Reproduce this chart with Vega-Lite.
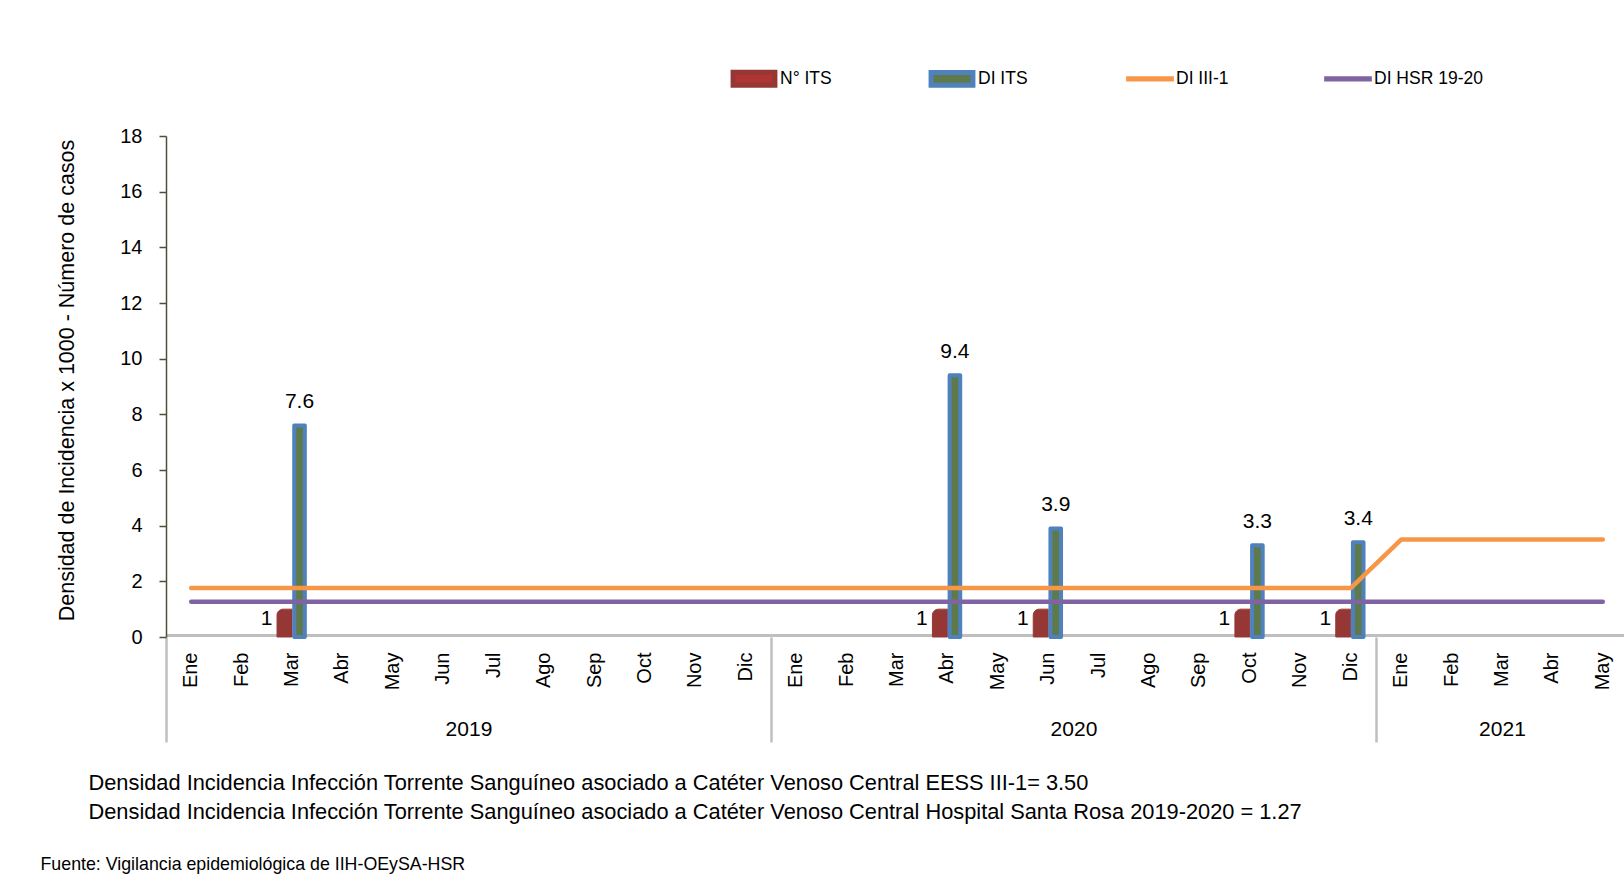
{
  "$schema": "https://vega.github.io/schema/vega-lite/v6.json",
  "autosize": {"type": "none"},
  "width": 1458,
  "height": 501,
  "padding": {"left": 166, "top": 136, "right": 0, "bottom": 255},
  "background": "white",
  "datasets": {
    "barras": [
      {"mes": "2019-03 Mar", "serie": "N° ITS", "valor": 1},
      {"mes": "2019-03 Mar", "serie": "DI ITS", "valor": 7.6},
      {"mes": "2020-04 Abr", "serie": "N° ITS", "valor": 1},
      {"mes": "2020-04 Abr", "serie": "DI ITS", "valor": 9.4},
      {"mes": "2020-06 Jun", "serie": "N° ITS", "valor": 1},
      {"mes": "2020-06 Jun", "serie": "DI ITS", "valor": 3.9},
      {"mes": "2020-10 Oct", "serie": "N° ITS", "valor": 1},
      {"mes": "2020-10 Oct", "serie": "DI ITS", "valor": 3.3},
      {"mes": "2020-12 Dic", "serie": "N° ITS", "valor": 1},
      {"mes": "2020-12 Dic", "serie": "DI ITS", "valor": 3.4}
    ],
    "lineas": [
      {"mes": "2019-01 Ene", "serie": "DI III-1", "valor": 1.76},
      {"mes": "2019-02 Feb", "serie": "DI III-1", "valor": 1.76},
      {"mes": "2019-03 Mar", "serie": "DI III-1", "valor": 1.76},
      {"mes": "2019-04 Abr", "serie": "DI III-1", "valor": 1.76},
      {"mes": "2019-05 May", "serie": "DI III-1", "valor": 1.76},
      {"mes": "2019-06 Jun", "serie": "DI III-1", "valor": 1.76},
      {"mes": "2019-07 Jul", "serie": "DI III-1", "valor": 1.76},
      {"mes": "2019-08 Ago", "serie": "DI III-1", "valor": 1.76},
      {"mes": "2019-09 Sep", "serie": "DI III-1", "valor": 1.76},
      {"mes": "2019-10 Oct", "serie": "DI III-1", "valor": 1.76},
      {"mes": "2019-11 Nov", "serie": "DI III-1", "valor": 1.76},
      {"mes": "2019-12 Dic", "serie": "DI III-1", "valor": 1.76},
      {"mes": "2020-01 Ene", "serie": "DI III-1", "valor": 1.76},
      {"mes": "2020-02 Feb", "serie": "DI III-1", "valor": 1.76},
      {"mes": "2020-03 Mar", "serie": "DI III-1", "valor": 1.76},
      {"mes": "2020-04 Abr", "serie": "DI III-1", "valor": 1.76},
      {"mes": "2020-05 May", "serie": "DI III-1", "valor": 1.76},
      {"mes": "2020-06 Jun", "serie": "DI III-1", "valor": 1.76},
      {"mes": "2020-07 Jul", "serie": "DI III-1", "valor": 1.76},
      {"mes": "2020-08 Ago", "serie": "DI III-1", "valor": 1.76},
      {"mes": "2020-09 Sep", "serie": "DI III-1", "valor": 1.76},
      {"mes": "2020-10 Oct", "serie": "DI III-1", "valor": 1.76},
      {"mes": "2020-11 Nov", "serie": "DI III-1", "valor": 1.76},
      {"mes": "2020-12 Dic", "serie": "DI III-1", "valor": 1.76},
      {"mes": "2021-01 Ene", "serie": "DI III-1", "valor": 3.5},
      {"mes": "2021-02 Feb", "serie": "DI III-1", "valor": 3.5},
      {"mes": "2021-03 Mar", "serie": "DI III-1", "valor": 3.5},
      {"mes": "2021-04 Abr", "serie": "DI III-1", "valor": 3.5},
      {"mes": "2021-05 May", "serie": "DI III-1", "valor": 3.5},
      {"mes": "2019-01 Ene", "serie": "DI HSR 19-20", "valor": 1.27},
      {"mes": "2019-02 Feb", "serie": "DI HSR 19-20", "valor": 1.27},
      {"mes": "2019-03 Mar", "serie": "DI HSR 19-20", "valor": 1.27},
      {"mes": "2019-04 Abr", "serie": "DI HSR 19-20", "valor": 1.27},
      {"mes": "2019-05 May", "serie": "DI HSR 19-20", "valor": 1.27},
      {"mes": "2019-06 Jun", "serie": "DI HSR 19-20", "valor": 1.27},
      {"mes": "2019-07 Jul", "serie": "DI HSR 19-20", "valor": 1.27},
      {"mes": "2019-08 Ago", "serie": "DI HSR 19-20", "valor": 1.27},
      {"mes": "2019-09 Sep", "serie": "DI HSR 19-20", "valor": 1.27},
      {"mes": "2019-10 Oct", "serie": "DI HSR 19-20", "valor": 1.27},
      {"mes": "2019-11 Nov", "serie": "DI HSR 19-20", "valor": 1.27},
      {"mes": "2019-12 Dic", "serie": "DI HSR 19-20", "valor": 1.27},
      {"mes": "2020-01 Ene", "serie": "DI HSR 19-20", "valor": 1.27},
      {"mes": "2020-02 Feb", "serie": "DI HSR 19-20", "valor": 1.27},
      {"mes": "2020-03 Mar", "serie": "DI HSR 19-20", "valor": 1.27},
      {"mes": "2020-04 Abr", "serie": "DI HSR 19-20", "valor": 1.27},
      {"mes": "2020-05 May", "serie": "DI HSR 19-20", "valor": 1.27},
      {"mes": "2020-06 Jun", "serie": "DI HSR 19-20", "valor": 1.27},
      {"mes": "2020-07 Jul", "serie": "DI HSR 19-20", "valor": 1.27},
      {"mes": "2020-08 Ago", "serie": "DI HSR 19-20", "valor": 1.27},
      {"mes": "2020-09 Sep", "serie": "DI HSR 19-20", "valor": 1.27},
      {"mes": "2020-10 Oct", "serie": "DI HSR 19-20", "valor": 1.27},
      {"mes": "2020-11 Nov", "serie": "DI HSR 19-20", "valor": 1.27},
      {"mes": "2020-12 Dic", "serie": "DI HSR 19-20", "valor": 1.27},
      {"mes": "2021-01 Ene", "serie": "DI HSR 19-20", "valor": 1.27},
      {"mes": "2021-02 Feb", "serie": "DI HSR 19-20", "valor": 1.27},
      {"mes": "2021-03 Mar", "serie": "DI HSR 19-20", "valor": 1.27},
      {"mes": "2021-04 Abr", "serie": "DI HSR 19-20", "valor": 1.27},
      {"mes": "2021-05 May", "serie": "DI HSR 19-20", "valor": 1.27}
    ],
    "anios": [
      {"anio": "2019", "desde": 0, "hasta": 12},
      {"anio": "2020", "desde": 12, "hasta": 24},
      {"anio": "2021", "desde": 24, "hasta": 29}
    ]
  },
  "config": {
    "view": {"stroke": null},
    "axis": {"grid": false, "labelFont": "Liberation Sans", "titleFont": "Liberation Sans"},
    "legend": {
      "orient": "none",
      "legendX": 563,
      "legendY": -82.5,
      "direction": "horizontal",
      "columns": 4,
      "gridAlign": "all",
      "columnPadding": 31,
      "symbolSize": 2025,
      "symbolStrokeWidth": 5,
      "symbolOpacity": 1,
      "labelFont": "Liberation Sans",
      "labelFontSize": 17.5,
      "labelColor": "black",
      "labelOffset": 1
    }
  },
  "layer": [
    {
      "encoding": {
        "x": {
          "field": "mes",
          "type": "nominal",
          "scale": {"range": [0, 1462], "paddingInner": 0.405, "paddingOuter": 0.2025},
          "axis": {
            "title": "Fuente: Vigilancia epidemiológica de IIH-OEySA-HSR",
            "labelExpr": "split(datum.value, ' ')[1]",
            "labelAngle": -90,
            "labelFontSize": 20,
            "labelColor": "black",
            "labelPadding": 17,
            "labelOverlap": false,
            "ticks": false,
            "tickSize": 0,
            "domainColor": "#BFBFBF",
            "domainWidth": 3,
            "offset": -2,
            "titleX": -126,
            "titleY": 234,
            "titleAlign": "left",
            "titleBaseline": "alphabetic",
            "titleFontSize": 17.8,
            "titleFontWeight": "normal",
            "titleColor": "black"
          }
        },
        "y": {
          "field": "valor",
          "type": "quantitative",
          "scale": {"domain": [0, 18], "nice": false},
          "axis": {
            "title": "Densidad de Incidencia x 1000 - Número de casos",
            "values": [0, 2, 4, 6, 8, 10, 12, 14, 16, 18],
            "domainColor": "#4F4F3A",
            "domainWidth": 1.5,
            "tickColor": "#4F4F3A",
            "tickSize": 7,
            "tickWidth": 1.5,
            "labelPadding": 17,
            "labelFontSize": 20,
            "labelColor": "black",
            "titleFontSize": 21.5,
            "titleFontWeight": "normal",
            "titleColor": "black",
            "titleX": -99,
            "titleY": 244,
            "titleAngle": -90,
            "titleAlign": "center",
            "titleBaseline": "middle"
          }
        }
      },
      "layer": [
        {
          "data": {"name": "barras"},
          "transform": [{"filter": {"field": "serie", "equal": "N° ITS"}}],
          "mark": {"type": "bar", "cornerRadiusTopLeft": 6, "fill": "#953735", "stroke": "#953735", "strokeWidth": 1},
          "encoding": {
            "xOffset": {"field": "serie", "type": "nominal", "scale": {"domain": ["N° ITS", "DI ITS"], "paddingInner": 0, "paddingOuter": 0}}
          }
        },
        {
          "data": {"name": "barras"},
          "transform": [{"filter": {"field": "serie", "equal": "DI ITS"}}],
          "mark": {"type": "bar", "fill": "#5F7A4A", "stroke": "#4F81BD", "strokeWidth": 4, "strokeJoin": "round", "width": 10.6},
          "encoding": {
            "xOffset": {"field": "serie", "type": "nominal"}
          }
        },
        {
          "data": {"name": "lineas"},
          "mark": {"type": "line", "strokeWidth": 4.5, "strokeCap": "round", "strokeJoin": "round"},
          "encoding": {
            "stroke": {"field": "serie", "type": "nominal", "title": null}
          }
        },
        {
          "data": {"name": "lineas"},
          "mark": {"type": "point", "filled": true, "opacity": 0},
          "encoding": {
            "fill": {
              "field": "serie", "type": "nominal", "title": null,
              "scale": {"domain": ["N° ITS", "DI ITS", "DI III-1", "DI HSR 19-20"], "range": ["#AE3531", "#5F7A4A", "#F79646", "#8064A2"]}
            },
            "stroke": {
              "field": "serie", "type": "nominal", "title": null,
              "scale": {"domain": ["N° ITS", "DI ITS", "DI III-1", "DI HSR 19-20"], "range": ["#953735", "#4F81BD", "#F79646", "#8064A2"]}
            },
            "shape": {
              "field": "serie", "type": "nominal", "title": null,
              "scale": {"domain": ["N° ITS", "DI ITS", "DI III-1", "DI HSR 19-20"], "range": ["M-0.93,-0.29H0.93V0.29H-0.93Z", "M-0.93,-0.28H0.93V0.28H-0.93Z", "M-0.95,-0.28M-0.95,0.28M-0.95,-0.01H0.95V0.01H-0.95Z", "M-0.95,-0.28M-0.95,0.28M-0.95,-0.01H0.95V0.01H-0.95Z"]}
            }
          }
        },
        {
          "data": {"name": "barras"},
          "transform": [{"filter": {"field": "serie", "equal": "DI ITS"}}],
          "mark": {"type": "text", "dy": -23, "fontSize": 21, "font": "Liberation Sans", "baseline": "middle", "color": "black"},
          "encoding": {
            "xOffset": {"field": "serie", "type": "nominal"},
            "text": {"field": "valor", "type": "quantitative", "format": ".1f"}
          }
        },
        {
          "data": {"name": "barras"},
          "transform": [{"filter": {"field": "serie", "equal": "N° ITS"}}],
          "mark": {"type": "text", "dy": 10, "dx": -18, "fontSize": 21, "font": "Liberation Sans", "baseline": "middle", "color": "black"},
          "encoding": {
            "xOffset": {"field": "serie", "type": "nominal"},
            "text": {"field": "valor", "type": "quantitative", "format": "d"}
          }
        }
      ]
    },
    {
      "data": {"name": "anios"},
      "mark": {"type": "rule", "opacity": 0},
      "encoding": {
        "x": {
          "field": "desde",
          "type": "quantitative",
          "scale": {"domain": [0, 29], "range": [0, 1462], "nice": false, "zero": false},
          "axis": {
            "orient": "bottom",
            "values": [0, 6, 12, 18, 24, 26.5],
            "domain": false,
            "grid": false,
            "ticks": true,
            "tickSize": 105,
            "tickWidth": 2.5,
            "tickColor": "#BFBFBF",
            "tickOpacity": {"condition": {"test": "datum.value % 12 === 0", "value": 1}, "value": 0},
            "labelExpr": "datum.value % 12 === 0 ? '' : (datum.value < 12 ? '2019' : datum.value < 24 ? '2020' : '2021')",
            "labelBaseline": "middle",
            "labelPadding": -13,
            "labelFontSize": 21,
            "labelColor": "black",
            "labelFlush": false,
            "labelOverlap": false,
            "labelBound": false,
            "title": [
              "Densidad Incidencia Infección Torrente Sanguíneo asociado a Catéter Venoso Central EESS III-1= 3.50",
              "Densidad Incidencia Infección Torrente Sanguíneo asociado a Catéter Venoso Central Hospital Santa Rosa 2019-2020  = 1.27"
            ],
            "titleX": -78,
            "titleY": 152,
            "titleAlign": "left",
            "titleBaseline": "alphabetic",
            "titleLineHeight": 29,
            "titleFontSize": 21.8,
            "titleFontWeight": "normal",
            "titleColor": "black"
          }
        }
      }
    }
  ],
  "resolve": {"scale": {"x": "independent"}, "axis": {"x": "independent"}}
}
